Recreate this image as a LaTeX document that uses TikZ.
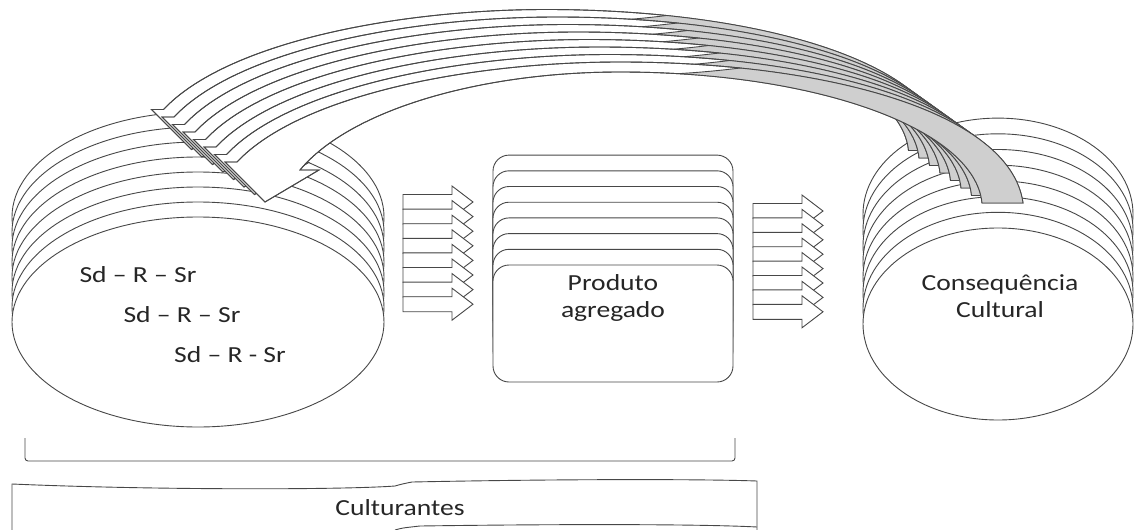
\documentclass[tikz,border=0pt]{standalone}
\usepackage{fontspec}
\setmainfont{Carlito}[FakeStretch=1.2]
\usetikzlibrary{calc}

\tikzset{
  line/.style={draw=black!72, line width=0.9pt, fill=white},
  shade/.style={draw=black!72, line width=0.9pt, fill=black!19},
  words/.style={text=black!85, font=\fontsize{23}{27}\selectfont, align=center, inner sep=0pt},
}

% straight block arrow: left end x, centre y
\def\blockarrow(#1,#2){\filldraw[line] (#1,#2-7.5) -- ++(49,0) -- ++(0,-8.5) -- ++(21,16) -- ++(-21,16) -- ++(0,-8.5) -- ++(-49,0) -- cycle;}
% curved band of one feedback arrow
\def\bandpath{(237,162) .. controls (300,95) and (470,62) .. (620,62) .. controls (820,62) and (1010,110) .. (1023,203) -- (982,203) .. controls (975,130) and (820,72) .. (620,72) .. controls (480,72) and (350,110) .. (300,170) -- (319,170) -- (265,202) -- (225,162) -- cycle}

\begin{document}
\begin{tikzpicture}[x=1pt,y=-1pt]
    %%%%% START %%%%%
    \useasboundingbox (0,0) rectangle (1135,530);

    % left stack
    \foreach \i in {7,6,...,0}
        \filldraw[line] (198,322-15*\i) ellipse [x radius=186, y radius=105];
    \node[words, anchor=base] (sdr1) at (138,282) {Sd – R – Sr};
    \node[words, anchor=base] (sdr2) at (182,322) {Sd – R – Sr};
    \node[words, anchor=base] (sdr3) at (230,362) {Sd – R - Sr};

    % middle stack
    \foreach \i in {7,6,...,0}
        \filldraw[line, rounded corners=16] (493,265-15.7*\i) rectangle (733,382-15.7*\i);
    \node[words, anchor=base] (prod) at (613,317) {Produto\\[0pt]agregado};

    % right stack
    \foreach \i in {7,6,...,0}
        \filldraw[line] (998,324-15.7*\i) ellipse [x radius=135, y radius=96];
    \node[words, anchor=base] (cons) at (1000,317) {Consequência\\[0pt]Cultural};

    % straight arrows
    \foreach \i in {0,...,7}{
        \blockarrow(403,202+14.6*\i)
    }
    \foreach \i in {0,...,7}{
        \blockarrow(753,211+14.4*\i)
    }

    % curved arrows, back to front
    \foreach \k in {7,6,...,0}{
        \begin{scope}[shift={(-10.5*\k,-7.5*\k)}]
            \filldraw[line] \bandpath;
            \begin{scope}
                \clip \bandpath;
                \filldraw[shade] (600,74) .. controls (660,77) and (715,72) .. (770,64) -- (1100,64) -- (1100,260) -- (600,260) -- cycle;
            \end{scope}
            \draw[line, fill=none] \bandpath;
        \end{scope}
    }

    % bracket
    \draw[line, fill=none, rounded corners=3] (25,438) -- (25,461) -- (735,461) -- (735,438);

    % bottom banner
    \draw[line, fill=none] (12,530) -- (12,484) .. controls (150,490) and (340,490) .. (395,486) .. controls (402,484) .. (412,482) .. controls (560,479) and (700,479) .. (757,481) -- (757,530);
    \draw[line, fill=none] (395,530) .. controls (402,528) .. (420,526) .. controls (560,524) and (700,524) .. (757,527);
    \node[words, anchor=base] (cult) at (400,515) {Culturantes};

    %%%%% END %%%%%
\end{tikzpicture}
\end{document}
